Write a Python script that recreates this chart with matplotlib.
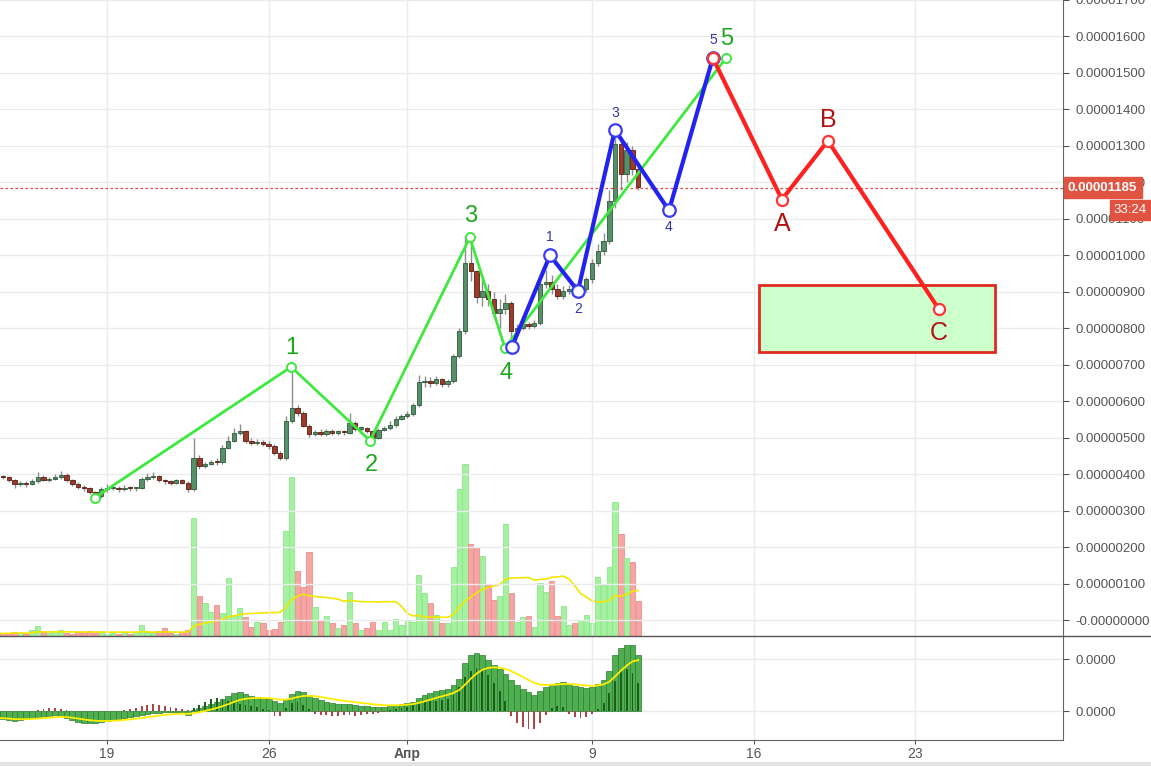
import numpy as np
import pandas as pd
import matplotlib.pyplot as plt
from matplotlib.patches import Rectangle
from matplotlib.lines import Line2D

plt.rcParams['font.family'] = ['Liberation Sans', 'DejaVu Sans']

# 6h candles, day 0 = 19 March; prices in 1e-8 units
t0 = -4.75
step = 0.25
open0 = 396
close = [393, 391, 385, 372, 377, 374, 380, 391, 385, 388,
         393, 399, 383, 374, 366, 363, 350, 339, 358, 361,
         363, 358, 363, 361, 361, 388, 393, 396, 383, 380,
         377, 383, 377, 358, 445, 423, 429, 434, 432, 473,
         492, 514, 519, 492, 486, 489, 484, 478, 459, 445,
         546, 582, 568, 533, 511, 516, 511, 519, 514, 516,
         514, 541, 525, 527, 519, 500, 522, 527, 536, 552,
         560, 566, 590, 653, 656, 650, 661, 648, 656, 724,
         792, 978, 956, 885, 902, 880, 842, 852, 870, 792,
         801, 811, 806, 814, 921, 926, 907, 888, 902, 907,
         902, 907, 934, 978, 1011, 1038, 1148, 1306, 1224, 1290,
         1238, 1186]
high = [400, 397, 394, 388, 382, 380, 386, 405, 398, 393,
        400, 410, 402, 386, 378, 370, 366, 355, 366, 372,
        370, 368, 369, 367, 366, 392, 402, 405, 399, 388,
        384, 387, 386, 380, 500, 452, 434, 440, 445, 480,
        505, 527, 538, 522, 498, 497, 495, 490, 482, 463,
        560, 694, 590, 572, 538, 522, 524, 525, 523, 521,
        520, 568, 546, 532, 530, 522, 526, 533, 545, 560,
        566, 572, 596, 672, 670, 666, 668, 664, 662, 730,
        800, 1049, 1040, 960, 935, 920, 900, 880, 895, 875,
        812, 820, 818, 822, 930, 960, 945, 920, 915, 918,
        925, 915, 940, 990, 1030, 1060, 1180, 1330, 1325, 1310,
        1300, 1250]
low = [388, 386, 378, 362, 368, 366, 370, 376, 380, 378,
       384, 388, 378, 368, 360, 355, 345, 333, 336, 352,
       356, 352, 354, 355, 354, 358, 382, 388, 378, 372,
       370, 372, 372, 352, 355, 415, 418, 425, 426, 428,
       468, 488, 508, 485, 480, 480, 476, 470, 452, 440,
       440, 540, 560, 528, 502, 505, 504, 506, 508, 508,
       508, 510, 518, 518, 512, 492, 496, 518, 522, 530,
       548, 555, 560, 585, 640, 640, 645, 640, 640, 650,
       718, 785, 930, 870, 860, 860, 830, 800, 840, 760,
       785, 795, 798, 800, 808, 910, 895, 880, 880, 895,
       890, 895, 900, 925, 970, 1000, 1030, 1130, 1180, 1200,
       1220, 1180]
volume = [3, 2, 3, 4, 3, 2, 6, 10, 4, 3,
          5, 6, 3, 2, 4, 3, 5, 3, 4, 2,
          3, 2, 3, 2, 4, 11, 4, 3, 5, 8,
          3, 2, 4, 6, 117, 40, 33, 24, 31, 23,
          58, 21, 28, 19, 9, 14, 13, 6, 7, 14,
          104, 158, 65, 49, 84, 29, 16, 20, 13, 8,
          11, 44, 13, 6, 8, 14, 6, 14, 6, 17,
          11, 16, 14, 61, 43, 33, 21, 13, 13, 69,
          146, 171, 92, 89, 80, 51, 36, 40, 111, 43,
          14, 19, 20, 9, 53, 44, 55, 20, 30, 11,
          13, 16, 21, 13, 59, 51, 69, 133, 101, 78,
          74, 35]
osc_main = [-7, -8, -9, -10, -9, -8, -7, -6, -5, -5,
            -4, -5, -7, -9, -11, -12, -12, -12, -11, -10,
            -9, -8, -7, -6, -5, -4, -3, -2, -2, -1,
            -1, -1, -2, -4, 1, 3, 5, 7, 9, 12,
            15, 18, 19, 17, 15, 14, 13, 12, 10, 8,
            11, 17, 20, 19, 16, 13, 11, 9, 8, 7,
            7, 7, 6, 5, 5, 4, 4, 4, 5, 6,
            7, 8, 9, 13, 16, 18, 20, 21, 22, 26,
            32, 48, 56, 58, 56, 51, 46, 42, 37, 31,
            26, 22, 19, 16, 20, 24, 27, 28, 29, 27,
            25, 24, 23, 24, 27, 31, 40, 56, 63, 66,
            66, 56]
osc_diff = [0, 0, 0, 0, 0, 0, 0, 1, 2, 3,
            3, 2, 1, 0, 0, 0, 0, 0, 0, 0,
            0, 0, 1, 2, 3, 5, 6, 7, 6, 5,
            4, 3, 2, 1, 3, 6, 9, 12, 13, 12,
            10, 8, 7, 6, 5, 4, 2, 1, -5, -5,
            3, 8, 9, 6, 2, -3, -4, -4, -5, -5,
            -4, -4, -5, -4, -3, -3, -2, -1, 1, 2,
            3, 4, 6, 8, 9, 10, 10, 11, 12, 16,
            24, 34, 40, 43, 42, 36, 28, 20, 10, -5,
            -12, -16, -18, -18, -12, -4, 3, 5, 4, -3,
            -6, -7, -6, -3, 2, 8, 18, 30, 40, 42,
            38, 28]

# wave drawings: day, price
green_days = [-0.52, 7.97, 11.39, 15.71, 17.23, 26.80]
green_price = [336, 694, 492, 1049, 746, 1541]
green_labels = ['', '1', '2', '3', '4', '5']
blue_days = [17.53, 19.18, 20.39, 21.99, 24.33, 26.23]
blue_price = [749, 1000, 902, 1344, 1123, 1541]
blue_labels = ['', '1', '2', '3', '4', '5']
red_days = [26.23, 29.22, 31.21, 36.02]
red_price = [1541, 1153, 1314, 852]
red_labels = ['', 'A', 'B', 'C']
box_days = [28.23, 38.44]
box_price = [735, 918]
last_price = 1185
timer = '33:24'

date_ticks = [0, 7, 13, 21, 28, 35]
date_labels = ['19', '26', 'Апр', '9', '16', '23']

n = len(close)
t = t0 + step * np.arange(n)
c = np.array(close, dtype=float)
o = np.r_[open0, c[:-1]]
up = c >= o

W, H = 1151, 766
fig = plt.figure(figsize=(W / 100, H / 100), dpi=100)
ax = fig.add_axes([0, (H - 636) / H, 1063 / W, 636 / H])
ax2 = fig.add_axes([0, (H - 740) / H, 1063 / W, 104 / H], sharex=ax)

# volume behind candles
vax = ax.twinx()
ax.set_zorder(vax.get_zorder() + 1)
ax.patch.set_visible(False)
vcol = np.where(up, '#a4f2a0', '#f6a5a5')
vedge = np.where(up, '#8fe68b', '#ee8f8f')
vax.bar(t, volume, width=0.23, color=vcol, edgecolor=vedge, linewidth=0.6)
vma = pd.Series(volume).rolling(20, min_periods=1).mean()
vax.plot(t, vma, color='#f3e600', lw=1.2)
vax.set_ylim(0, max(volume) * 3.7)
vax.set_yticks([])
for s in vax.spines.values():
    s.set_visible(False)

# candles
ax.vlines(t, low, high, color='#8e8e8e', lw=1, zorder=3)
body = np.where(np.abs(c - o) < 3, 3, c - o)
ax.bar(t, body, bottom=o, width=0.19,
       color=np.where(up, '#568f68', '#9a3b2c'),
       edgecolor=np.where(up, '#2c5a3b', '#5a1c12'), linewidth=0.6, zorder=4)

# waves
ax.plot(green_days, green_price, color='#3ee83e', lw=2, zorder=6)
ax.plot(green_days, green_price, 'o', ms=6.5, mfc='white', mec='#3ee83e', mew=1.4, zorder=7)
ax.plot(blue_days, blue_price, color='#2323f0', lw=3, zorder=8)
ax.plot(blue_days, blue_price, 'o', ms=9, mfc='white', mec='#3b3bf5', mew=1.6, zorder=9)
ax.plot(red_days, red_price, color='#ff2020', lw=3, zorder=10)
ax.plot(red_days, red_price, 'o', ms=8, mfc='white', mec='#ff3535', mew=1.6, zorder=11)

g_off = [0, 19, -24, 21, -25, 19]
for d, p, s, dy in zip(green_days, green_price, green_labels, g_off):
    ax.annotate(s, (d, p), xytext=(1, dy), textcoords='offset pixels', ha='center',
                va='center', fontsize=17, color='#1fa81f', zorder=12)
b_off = [0, 18, -18, 17, -17, 18]
for d, p, s, dy in zip(blue_days, blue_price, blue_labels, b_off):
    ax.annotate(s, (d, p), xytext=(0, dy), textcoords='offset pixels', ha='center',
                va='center', fontsize=10, color='#3434a8', zorder=12)
r_off = [0, -24, 21, -24]
for d, p, s, dy in zip(red_days, red_price, red_labels, r_off):
    ax.annotate(s, (d, p), xytext=(0, dy), textcoords='offset pixels', ha='center',
                va='center', fontsize=18, color='#b01212', zorder=12)

ax.add_patch(Rectangle((box_days[0], box_price[0]), box_days[1] - box_days[0],
                       box_price[1] - box_price[0], facecolor='#ccffcc',
                       edgecolor='#e02a1e', lw=2, zorder=5))

ax.axhline(last_price, color='#e8453c', lw=0.9, ls=(0, (2, 2)), zorder=5)

# axes styling
ax.set_xlim(-4.632, 41.39)
ax.set_ylim(-43.7, 1694)
yt = np.arange(0, 1800, 100)
ax.set_yticks(yt)
ax.set_yticklabels(['-0.00000000' if v == 0 else f'{v * 1e-8:.8f}' for v in yt])
ax.yaxis.tick_right()
ax.tick_params(axis='y', labelsize=9.5, colors='#555555', length=4, pad=5)
ax.tick_params(axis='x', length=0, labelbottom=False)
ax.set_xticks(date_ticks)
ax.grid(color='#ebebeb', lw=1)
ax.set_axisbelow(True)
for side in ['top', 'left', 'bottom']:
    ax.spines[side].set_visible(False)
ax.spines['right'].set_color('#666666')

ax.annotate(f'{last_price * 1e-8:.8f}', (1, last_price), xycoords=ax.get_yaxis_transform(),
            xytext=(5, 0), textcoords='offset pixels', ha='left', va='center',
            fontsize=9.5, color='white', fontweight='bold', annotation_clip=False,
            bbox=dict(boxstyle='square,pad=0.33', fc='#df5340', ec='#df5340'))
ax.annotate(timer, (1, last_price), xycoords=ax.get_yaxis_transform(),
            xytext=(84, -22), textcoords='offset pixels', ha='right', va='center',
            fontsize=9.5, color='white', annotation_clip=False,
            bbox=dict(boxstyle='square,pad=0.3', fc='#df5340', ec='#df5340'))

# lower indicator pane
ax2.bar(t, osc_main, width=0.25, color='#4fae50', edgecolor='#2f7f34', linewidth=0.5, zorder=2)
dm = np.array(osc_main)
dd = np.array(osc_diff)
dcol = np.where((dd > 0) & (dm > 0), '#1c5e1c', '#a84848')
ax2.bar(t, dd, width=0.08, color=dcol, zorder=3)
sig = pd.Series(osc_main).ewm(span=9, adjust=False).mean()
ax2.plot(t, sig, color='#ffee00', lw=1.3, zorder=4)
ax2.set_ylim(-29, 75)
ax2.set_yticks([0, 52])
ax2.set_yticklabels(['0.0000', '0.0000'])
ax2.yaxis.tick_right()
ax2.tick_params(axis='y', labelsize=9.5, colors='#555555', length=4, pad=5)
ax2.set_xticks(date_ticks)
ax2.set_xticklabels(date_labels)
ax2.tick_params(axis='x', labelsize=10, colors='#555555', length=3, pad=2)
for lbl in ax2.get_xticklabels():
    if lbl.get_text() == 'Апр':
        lbl.set_fontweight('bold')
ax2.grid(color='#ebebeb', lw=1)
ax2.set_axisbelow(True)
for side in ['top', 'left']:
    ax2.spines[side].set_visible(False)
ax2.spines['right'].set_color('#666666')
ax2.spines['bottom'].set_color('#666666')

fig.add_artist(Line2D([0, 1], [(H - 636) / H] * 2, transform=fig.transFigure,
                      color='#555555', lw=1))
fig.patches.append(Rectangle((0, 0), 1, 4 / H, transform=fig.transFigure,
                             facecolor='#e3e3e3', edgecolor='none'))

fig.savefig('out.png', dpi=100)
